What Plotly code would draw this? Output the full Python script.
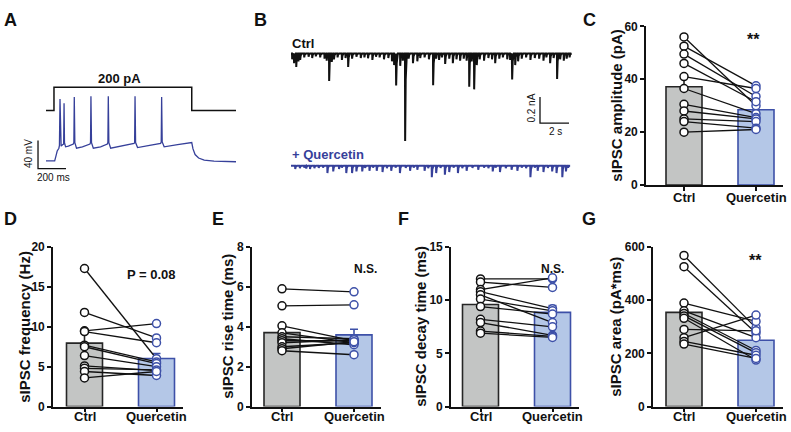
import numpy as np
import plotly.graph_objects as go

W, H = 791, 432
FONT = "Liberation Sans"
BLACK = "#111111"
BLUE_TRACE = "#36409a"
BLUE_EDGE = "#3d50a8"
BLUE_FILL = "#b4c7e7"
GRAY_FILL = "#c3c5c4"

# ---------------- Panel A: current-clamp recording ----------------
CMD_T_MS = [0, 57, 57, 1041, 1041, 1357]
CMD_PA = [0, 0, 200, 200, 0, 0]
VM_T_MS = [0, 62, 70, 80, 92, 96, 100, 103, 108, 118, 126, 129, 132, 140, 160,
           195, 199, 202, 206, 218, 260, 314, 318, 321, 325, 338, 390, 438, 442,
           445, 449, 462, 540, 629, 633, 636, 640, 654, 740, 819, 823, 826, 830,
           844, 940, 1041, 1050, 1065, 1090, 1130, 1200, 1357]
VM_MV = [-70, -70, -64, -56, -52, -48, 18, -44, -49, -47, -46, 12, -44, -50, -49,
         -46, -44, 21, -44, -52, -50, -46, -44, 22, -44, -52, -50, -46, -44,
         22, -44, -52, -49, -45, -44, 22, -44, -51, -48, -45, -43, 21, -43,
         -50, -47, -44, -53, -61, -66, -69, -70.5, -71.3]

# ---------------- Panel B: sIPSC traces (event times s, amplitudes pA) ----------------
TRACE_DURATION_S = 19.25
CTRL_EVENT_T = [0.07, 0.2, 0.35, 0.5, 0.62, 0.9, 1.2, 1.45, 1.7, 2.0, 2.3, 2.45, 2.62, 2.8,
                2.95, 3.2, 3.5, 3.75, 3.93, 4.2, 4.5, 4.8, 5.05, 5.3, 5.6, 5.85, 6.1,
                6.4, 6.7, 6.95, 7.1, 7.24, 7.52, 7.7, 7.86, 8.1, 8.4, 8.7, 8.9, 9.2,
                9.5, 9.79, 10.0, 10.2, 10.4, 10.62, 10.9, 11.15, 11.4, 11.65, 11.9,
                12.1, 12.28, 12.45, 12.62, 12.8, 13.0, 13.3, 13.6, 13.85, 14.07,
                14.35, 14.6, 14.9, 15.1, 15.24, 15.45, 15.65, 15.9, 16.2, 16.5,
                16.8, 17.1, 17.4, 17.6, 17.86, 18.1, 18.34, 18.55, 18.8, 19.0, 19.2]
CTRL_EVENT_PA = [45, 75, 104, 60, 50, 30, 25, 35, 22, 30, 40, 55, 210, 65,
                 45, 30, 50, 35, 104, 40, 25, 35, 30, 37, 50, 25, 30,
                 45, 35, 60, 89, 245, 95, 55, 670, 40, 74, 60, 35, 30,
                 45, 244, 40, 50, 30, 80, 40, 74, 45, 55, 40,
                 55, 255, 60, 275, 89, 45, 55, 35, 45, 74,
                 40, 30, 45, 50, 200, 89, 60, 40, 30, 50,
                 35, 40, 55, 30, 74, 35, 195, 45, 55, 40, 30]
QUER_EVENT_T = [0.28, 0.6, 0.9, 1.04, 1.3, 1.6, 1.9, 2.2, 2.5, 2.9, 3.3, 3.5, 3.8, 4.2,
                4.5, 4.9, 5.1, 5.4, 5.65, 5.9, 6.3, 6.6, 6.9, 7.2, 7.5, 7.9, 8.2,
                8.45, 8.7, 9.2, 9.45, 9.7, 10.0, 10.3, 10.6, 10.9, 11.2, 11.5,
                11.8, 12.1, 12.5, 12.9, 13.3, 13.6, 13.9, 14.1, 14.4, 14.8, 15.2,
                15.6, 15.9, 16.2, 16.5, 16.8, 17.0, 17.4, 17.7, 18.0, 18.3, 18.7,
                18.95, 19.1]
QUER_EVENT_PA = [25, 20, 15, 22, 25, 20, 18, 15, 57, 44, 25, 15, 57, 57,
                 44, 44, 18, 39, 15, 39, 49, 20, 39, 15, 57, 18, 39,
                 15, 32, 39, 20, 89, 57, 18, 69, 49, 15, 57,
                 20, 39, 18, 32, 15, 20, 44, 15, 49, 20, 32,
                 39, 15, 20, 89, 15, 39, 49, 18, 44, 57, 89,
                 44, 15]
QUER_OFFSET_NA = -0.859

# ---------------- Panels C-G: paired cell data ----------------
GROUPS = ["Ctrl", "Quercetin"]
AMP_CTRL = [56, 52.5, 49.5, 46, 41, 36.5, 30.5, 28, 25, 24, 20]
AMP_QUER = [30, 37.5, 33.5, 31.5, 36.5, 27, 25.5, 25, 24, 21.5, 21]
FREQ_CTRL = [17.3, 11.8, 9.5, 9.4, 7.7, 7.5, 6.4, 5.1, 4.8, 4.4, 3.6]
FREQ_QUER = [6.0, 8.6, 10.4, 8.0, 5.6, 5.4, 5.0, 4.5, 4.6, 3.9, 4.4]
RISE_CTRL = [5.9, 5.05, 4.05, 3.7, 3.5, 3.4, 3.3, 3.2, 3.0, 2.9, 2.8]
RISE_QUER = [5.75, 5.1, 3.3, 3.2, 3.4, 3.1, 3.3, 3.35, 3.2, 3.25, 2.6]
DECAY_CTRL = [12.0, 11.7, 11.0, 10.8, 10.5, 10.1, 9.4, 8.2, 7.9, 7.1, 6.9]
DECAY_QUER = [12.0, 11.2, 12.1, 9.2, 7.9, 9.0, 8.7, 7.5, 6.7, 6.6, 6.5]
AREA_CTRL = [568, 526, 389, 360, 350, 341, 332, 290, 259, 245, 235]
AREA_QUER = [296, 277, 320, 259, 211, 202, 175, 285, 344, 193, 181]


def px_x(p):
    return p / W


def px_y(p):
    return 1 - p / H


fig = go.Figure()
annotations = []

# ---------------- Panel A ----------------
A_X0, A_X1, A_Y0, A_Y1 = 30, 240, 60, 180  # pixel box
MS_PER_PX = 200 / 28.0
MV_PER_PX = 40 / 29.0
PA_PER_PX = 200 / 24.0
a_xrange = [(A_X0 - 46) * MS_PER_PX, (A_X1 - 46) * MS_PER_PX]
a_yrange = [-70 - (A_Y1 - 159) * MV_PER_PX, -70 + (159 - A_Y0) * MV_PER_PX]
a_y2range = [-(A_Y1 - 107) * PA_PER_PX, (107 - A_Y0) * PA_PER_PX]

fig.add_trace(go.Scatter(x=CMD_T_MS, y=CMD_PA, mode="lines", xaxis="x", yaxis="y2",
                         line=dict(color=BLACK, width=1.5), hoverinfo="skip"))
fig.add_trace(go.Scatter(x=VM_T_MS, y=VM_MV, mode="lines", xaxis="x", yaxis="y",
                         line=dict(color=BLUE_TRACE, width=1.3), hoverinfo="skip"))
sb_t0 = -57
fig.add_trace(go.Scatter(x=[sb_t0, sb_t0, sb_t0 + 200], y=[-41, -81, -81], mode="lines",
                         xaxis="x", yaxis="y", line=dict(color=BLACK, width=1.3),
                         hoverinfo="skip"))

# ---------------- Panel B ----------------
B_X0, B_X1, B_Y0, B_Y1 = 285, 585, 30, 185
S_PER_PX = 2 / 29.0
NA_PER_PX = 0.2 / 27.0
b_xrange = [(B_X0 - 291) * S_PER_PX, (B_X1 - 291) * S_PER_PX]
b_yrange = [-(B_Y1 - 48) * NA_PER_PX, (48 - B_Y0) * NA_PER_PX]


def build_trace(times, amps, dur, offset):
    xs, ys = [0.0], [offset]
    for t, a in sorted(zip(times, amps)):
        a_na = a / 1000.0
        xs += [t, t + 0.012, t + 0.05, t + 0.13]
        ys += [offset, offset - a_na, offset - 0.3 * a_na, offset]
    xs.append(dur)
    ys.append(offset)
    return xs, ys


cx, cy = build_trace(CTRL_EVENT_T, CTRL_EVENT_PA, TRACE_DURATION_S, 0.0)
qx, qy = build_trace(QUER_EVENT_T, QUER_EVENT_PA, TRACE_DURATION_S, QUER_OFFSET_NA)
fig.add_trace(go.Scatter(x=cx, y=cy, mode="lines", xaxis="x2", yaxis="y3",
                         line=dict(color=BLACK, width=2.0), hoverinfo="skip"))
fig.add_trace(go.Scatter(x=qx, y=qy, mode="lines", xaxis="x2", yaxis="y3",
                         line=dict(color=BLUE_TRACE, width=2.0), hoverinfo="skip"))
sb_s0 = (540 - 291) * S_PER_PX
fig.add_trace(go.Scatter(x=[sb_s0, sb_s0, sb_s0 + 2], y=[-0.333, -0.533, -0.533],
                         mode="lines", xaxis="x2", yaxis="y3",
                         line=dict(color=BLACK, width=1.3), hoverinfo="skip"))

layout_axes = dict(
    xaxis=dict(domain=[px_x(A_X0), px_x(A_X1)], range=a_xrange, visible=False,
               anchor="y"),
    yaxis=dict(domain=[px_y(A_Y1), px_y(A_Y0)], range=a_yrange, visible=False,
               anchor="x"),
    yaxis2=dict(overlaying="y", range=a_y2range, visible=False, anchor="x"),
    xaxis2=dict(domain=[px_x(B_X0), px_x(B_X1)], range=b_xrange, visible=False,
                anchor="y3"),
    yaxis3=dict(domain=[px_y(B_Y1), px_y(B_Y0)], range=b_yrange, visible=False,
                anchor="x2"),
)


def add_text(text, xp, yp, size, bold=False, color=BLACK, angle=0, xanchor="center"):
    annotations.append(dict(
        text=text, x=px_x(xp), y=px_y(yp), xref="paper", yref="paper",
        xanchor=xanchor, yanchor="middle", showarrow=False, textangle=angle,
        font=dict(family=FONT, size=size, color=color,
                  weight="bold" if bold else "normal")))


add_text("200 pA", 119, 74, 13, bold=True)
add_text("40 mV", 28, 152, 10, angle=-90)
add_text("200 ms", 53, 176, 10)
add_text("Ctrl", 290, 38, 13, bold=True, xanchor="left")
add_text("+ Quercetin", 290, 152, 13, bold=True, color=BLUE_TRACE, xanchor="left")
add_text("0.2 nA", 532, 105, 10, angle=-90)
add_text("2 s", 555, 129, 10)

for letter, xp, yp in [("A", 10, 13), ("B", 260, 13), ("C", 589, 13), ("D", 10, 219),
                       ("E", 218, 219), ("F", 403, 219), ("G", 589, 219)]:
    add_text(letter, xp, yp, 18, bold=True)

# ---------------- Bar panels ----------------
PANELS = [
    dict(xa="x3", ya="y4", axis_px=646, ctrl_px=684, top=20, bot=184, ymax=60, dtick=20,
         c=AMP_CTRL, q=AMP_QUER, title="sIPSC amplitude (pA)", title_px=617,
         stat="**", stat_xy=(753, 34), stat_size=16, lab_y=197),
    dict(xa="x4", ya="y5", axis_px=53, ctrl_px=84.5, top=248, bot=413, ymax=20, dtick=5,
         c=FREQ_CTRL, q=FREQ_QUER, title="sIPSC frequency (Hz)", title_px=25,
         stat="P = 0.08", stat_xy=(151, 276), stat_size=13, lab_y=423),
    dict(xa="x5", ya="y6", axis_px=252, ctrl_px=282, top=248, bot=413, ymax=8, dtick=2,
         c=RISE_CTRL, q=RISE_QUER, title="sIPSC rise time (ms)", title_px=228,
         stat="N.S.", stat_xy=(365, 271), stat_size=12, lab_y=423),
    dict(xa="x6", ya="y7", axis_px=451, ctrl_px=480.5, top=248, bot=413, ymax=15, dtick=5,
         c=DECAY_CTRL, q=DECAY_QUER, title="sIPSC decay time (ms)", title_px=421,
         stat="N.S.", stat_xy=(552, 271), stat_size=12, lab_y=423),
    dict(xa="x7", ya="y8", axis_px=653, ctrl_px=684, top=248, bot=413, ymax=600, dtick=200,
         c=AREA_CTRL, q=AREA_QUER, title="sIPSC area (pA*ms)", title_px=616,
         stat="**", stat_xy=(755, 262), stat_size=16, lab_y=423),
]

PX_PER_UNIT = 72.0
for p in PANELS:
    c = np.array(p["c"], dtype=float)
    q = np.array(p["q"], dtype=float)
    means = [c.mean(), q.mean()]
    sems = [c.std(ddof=1) / np.sqrt(len(c)), q.std(ddof=1) / np.sqrt(len(q))]
    for i, (fill, edge) in enumerate([(GRAY_FILL, "#262626"), (BLUE_FILL, BLUE_EDGE)]):
        fig.add_trace(go.Bar(
            x=[i], y=[means[i]], width=0.5, xaxis=p["xa"], yaxis=p["ya"],
            marker=dict(color=fill, line=dict(color=edge, width=1.6)),
            error_y=dict(type="data", symmetric=False, array=[sems[i]], arrayminus=[0],
                         color=edge, thickness=1.6, width=4),
            hoverinfo="skip"))
    lx, ly = [], []
    for a, b in zip(c, q):
        lx += [0, 1, None]
        ly += [a, b, None]
    fig.add_trace(go.Scatter(x=lx, y=ly, mode="lines", xaxis=p["xa"], yaxis=p["ya"],
                             line=dict(color=BLACK, width=1.3), hoverinfo="skip"))
    fig.add_trace(go.Scatter(x=[0] * len(c), y=c, mode="markers", xaxis=p["xa"],
                             yaxis=p["ya"], cliponaxis=False,
                             marker=dict(symbol="circle", size=8, color="white",
                                         line=dict(color=BLACK, width=1.5)),
                             hoverinfo="skip"))
    fig.add_trace(go.Scatter(x=[1] * len(q), y=q, mode="markers", xaxis=p["xa"],
                             yaxis=p["ya"], cliponaxis=False,
                             marker=dict(symbol="circle", size=8, color="white",
                                         line=dict(color=BLUE_EDGE, width=1.5)),
                             hoverinfo="skip"))
    left_units = -(p["ctrl_px"] - p["axis_px"]) / PX_PER_UNIT
    right_units = 1.37
    xname = "xaxis" + p["xa"][1:]
    yname = "yaxis" + p["ya"][1:]
    layout_axes[xname] = dict(
        domain=[px_x(p["axis_px"]), px_x(p["ctrl_px"] + right_units * PX_PER_UNIT)],
        range=[left_units, right_units], anchor=p["ya"],
        tickvals=[0, 1], ticks="outside", ticklen=4, tickwidth=1.5,
        tickcolor=BLACK, showline=True, linewidth=1.6, linecolor=BLACK,
        showgrid=False, zeroline=False, showticklabels=False)
    layout_axes[yname] = dict(
        domain=[px_y(p["bot"]), px_y(p["top"])], range=[0, p["ymax"]], anchor=p["xa"],
        tickvals=list(np.arange(0, p["ymax"] + 0.001, p["dtick"])), ticks="outside",
        ticklen=4, tickwidth=1.5, tickcolor=BLACK, showline=True, linewidth=1.6,
        linecolor=BLACK, showgrid=False, zeroline=False,
        tickfont=dict(family=FONT, size=12, color=BLACK, weight="bold"))
    for i, g in enumerate(GROUPS):
        add_text(g, p["ctrl_px"] + i * PX_PER_UNIT, p["lab_y"], 13, bold=True)
    add_text(p["title"], p["title_px"], (p["top"] + p["bot"]) / 2, 15, bold=True,
             angle=-90)
    add_text(p["stat"], p["stat_xy"][0], p["stat_xy"][1], p["stat_size"], bold=True)

fig.update_layout(
    width=W, height=H, margin=dict(l=0, r=0, t=0, b=0),
    paper_bgcolor="white", plot_bgcolor="rgba(0,0,0,0)",
    showlegend=False, barmode="overlay",
    annotations=annotations,
    **layout_axes,
)

fig.write_html("out.html", config={"displayModeBar": False},
               post_script="document.body.style.margin='0px';"
                           "document.body.style.overflow='hidden';")
